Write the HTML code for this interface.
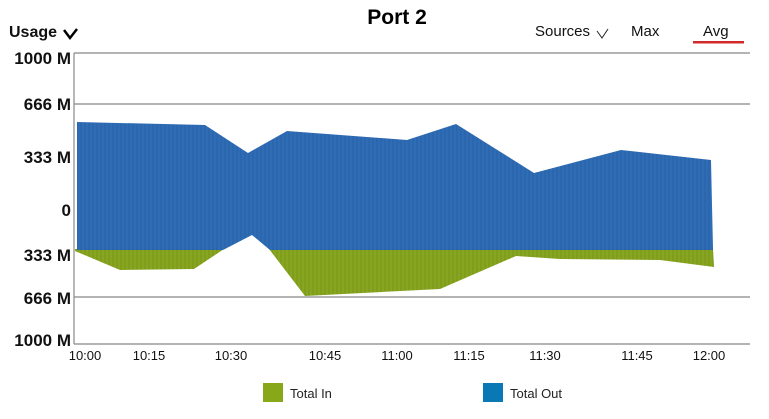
<!DOCTYPE html>
<html><head><meta charset="utf-8"><style>
body{margin:0;background:#fff;width:769px;height:414px;overflow:hidden;font-family:"Liberation Sans",sans-serif}
</style></head><body>
<svg width="769" height="414" xmlns="http://www.w3.org/2000/svg">
<defs><pattern id="st" width="4" height="10" patternUnits="userSpaceOnUse"><rect width="2" height="10" fill="#000" opacity="0.05"/></pattern></defs>
<text x="397" y="24" font-size="21" font-weight="bold" text-anchor="middle" fill="#000">Port 2</text>
<text x="9" y="37" font-size="16" font-weight="bold" fill="#111">Usage</text>
<path d="M64 30 L70 38 L77 29" stroke="#000" stroke-width="2.5" fill="none"/>
<text x="535" y="36" font-size="15" fill="#111">Sources</text>
<path d="M597 31 L602 38 L608 29" stroke="#222" stroke-width="1" fill="none"/>
<text x="631" y="36" font-size="15" fill="#111">Max</text>
<text x="703" y="36" font-size="15" fill="#111">Avg</text>
<rect x="693" y="41" width="51" height="2.5" fill="#d12a2a"/>
<g stroke="#888" stroke-width="1.2">
<line x1="74" y1="53" x2="750" y2="53"/><line x1="74" y1="104" x2="750" y2="104"/>
<line x1="74" y1="297" x2="750" y2="297"/><line x1="74" y1="344" x2="750" y2="344"/>
<line x1="74" y1="53" x2="74" y2="344"/></g>
<g font-size="17" font-weight="bold" fill="#111" text-anchor="end">
<text x="71" y="64">1000 M</text><text x="71" y="110">666 M</text><text x="71" y="163">333 M</text>
<text x="71" y="216">0</text><text x="71" y="261">333 M</text><text x="71" y="304">666 M</text><text x="71" y="346">1000 M</text></g>
<g>
<polygon points="75,249 75,251 120,270 194,269 224,249" fill="#88a520"/>
<polygon points="269,249 305,296 440,289 516,256 560,259 660,260 714,267 713,249" fill="#88a520"/>
<polygon points="77,122 205,125 248,153 287,131 407,140 456,124 534,173 621,150 711,160 713,250 270,250 252,235 223,250 77,250" fill="#2e6cb6"/>
<polygon points="75,249 75,251 120,270 194,269 224,249" fill="url(#st)"/>
<polygon points="269,249 305,296 440,289 516,256 560,259 660,260 714,267 713,249" fill="url(#st)"/>
<polygon points="77,122 205,125 248,153 287,131 407,140 456,124 534,173 621,150 711,160 713,250 270,250 252,235 223,250 77,250" fill="url(#st)"/>
</g>
<g font-size="13" fill="#111" text-anchor="middle">
<text x="85" y="360">10:00</text><text x="149" y="360">10:15</text><text x="231" y="360">10:30</text>
<text x="325" y="360">10:45</text><text x="397" y="360">11:00</text><text x="469" y="360">11:15</text>
<text x="545" y="360">11:30</text><text x="637" y="360">11:45</text><text x="709" y="360">12:00</text></g>
<rect x="263" y="383" width="20" height="19" fill="#88a81a"/>
<text x="290" y="398" font-size="13" fill="#222">Total In</text>
<rect x="483" y="383" width="20" height="19" fill="#0a78b4"/>
<text x="510" y="398" font-size="13" fill="#222">Total Out</text>
</svg>
</body></html>
